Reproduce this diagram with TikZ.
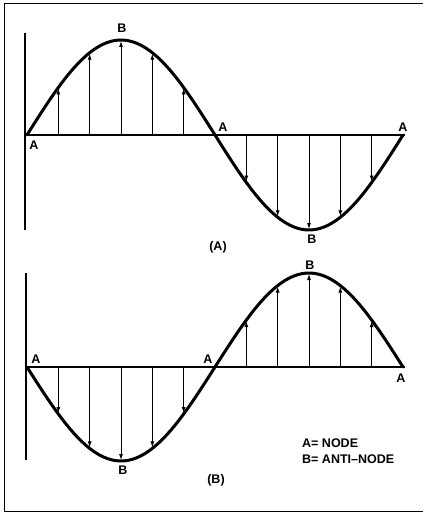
\documentclass[tikz,border=0pt]{standalone}
\usepackage{fontspec}
\setmainfont{Liberation Sans}
\usetikzlibrary{arrows.meta}
\begin{document}
\begin{tikzpicture}[
        x=1pt, y=-1pt,
        wave/.style={line width=3pt, line cap=round, line join=round},
        axisline/.style={line width=1.9pt},
        zeroline/.style={line width=1.2pt},
        vec/.style={-{Latex[length=6pt,width=4pt]}, line width=0.9pt, shorten >=1pt},
        frameline/.style={line width=1pt},
        lbl/.style={font=\fontsize{12.5}{14}\selectfont\bfseries, inner sep=0pt}
      ]
      \useasboundingbox (0,0) rectangle (423,513);

      % frame
      \coordinate (ftl) at (4,4);
      \coordinate (ftr) at (423,4);
      \coordinate (fbl) at (4,511);
      \coordinate (fbr) at (423,511);
      \draw[frameline] (ftr) -- (ftl) -- (fbl);
      \draw[frameline] (fbl) -- (fbr);

      % (A)
      \coordinate (tax1) at (25,33);
      \coordinate (tax2) at (25,230);
      \coordinate (tz1) at (27,135);
      \coordinate (tz2) at (405,135);
      \draw[axisline] (tax1) -- (tax2);
      \draw[zeroline] (tz1) -- (tz2);
      \draw[wave] plot[variable=\t, domain=0:360, samples=90]
        ({27+\t/180*188},{135-95*sin(\t)});
      \foreach \k in {1,2,3,4,5,7,8,9,10,11} {
        \pgfmathsetmacro\xk{27+188*\k/6}
        \coordinate (ta\k) at (\xk,135);
        \coordinate (tb\k) at (\xk,{135-95*sin(30*\k)});
        \draw[vec] (ta\k) -- (tb\k);
      }
      \node[lbl] (tA1) at (34,145) {A};
      \node[lbl] (tB1) at (122,28) {B};
      \node[lbl] (tA2) at (223,127) {A};
      \node[lbl] (tB2) at (312,239) {B};
      \node[lbl] (tA3) at (403,127) {A};
      \node[lbl] (capA) at (218,247) {(A)};

      % (B)
      \coordinate (bax1) at (26,273);
      \coordinate (bax2) at (26,460);
      \coordinate (bz1) at (27,367);
      \coordinate (bz2) at (405,367);
      \draw[axisline] (bax1) -- (bax2);
      \draw[zeroline] (bz1) -- (bz2);
      \draw[wave] plot[variable=\t, domain=0:360, samples=90]
        ({27+\t/180*188},{367+94*sin(\t)});
      \foreach \k in {1,2,3,4,5,7,8,9,10,11} {
        \pgfmathsetmacro\xk{27+188*\k/6}
        \coordinate (ba\k) at (\xk,367);
        \coordinate (bb\k) at (\xk,{367+94*sin(30*\k)});
        \draw[vec] (ba\k) -- (bb\k);
      }
      \node[lbl] (bA1) at (36,359) {A};
      \node[lbl] (bA2) at (208,359) {A};
      \node[lbl] (bB1) at (123,470) {B};
      \node[lbl] (bB2) at (310,265) {B};
      \node[lbl] (bA3) at (401,378) {A};
      \node[lbl] (capB) at (216,480) {(B)};

      % legend
      \node[lbl, anchor=west] (keyA) at (302,443) {A= NODE};
      \node[lbl, anchor=west] (keyB) at (302,459) {B= ANTI--NODE};
    \end{tikzpicture}
\end{document}
